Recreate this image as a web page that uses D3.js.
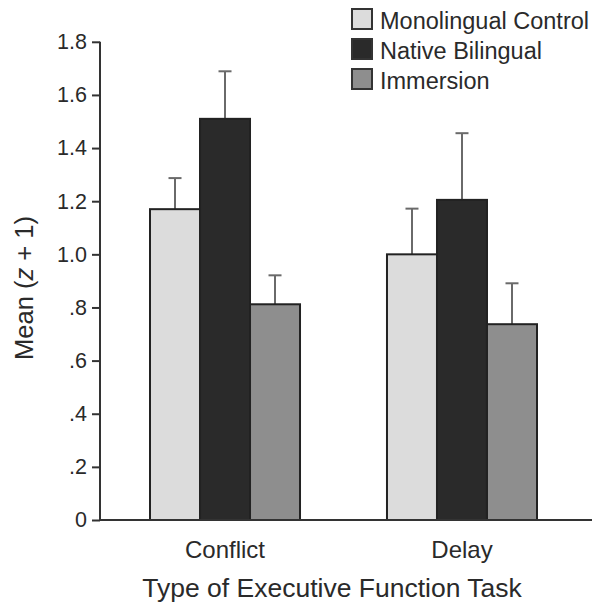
<!DOCTYPE html>
<html><head><meta charset="utf-8">
<script src="https://cdn.jsdelivr.net/npm/d3@7"></script>
<style>body{margin:0;background:#fff}svg{display:block}text{font-family:"Liberation Sans",Arial,sans-serif;fill:#2a2a2a}</style>
</head><body>
<script>
const categories = ["Conflict", "Delay"];
const groups = ["Monolingual Control", "Native Bilingual", "Immersion"];
const colors = ["#dcdcdc", "#2a2a2a", "#8e8e8e"];
const monolingual = [1.17, 1.00];
const nativeBilingual = [1.51, 1.205];
const immersion = [0.812, 0.737];
const errMonolingual = [0.117, 0.172];
const errNative = [0.179, 0.251];
const errImmersion = [0.109, 0.154];
const yTicks = [0, 0.2, 0.4, 0.6, 0.8, 1.0, 1.2, 1.4, 1.6, 1.8];
const yTickLabels = ["0", ".2", ".4", ".6", ".8", "1.0", "1.2", "1.4", "1.6", "1.8"];

const series = [monolingual, nativeBilingual, immersion];
const errs = [errMonolingual, errNative, errImmersion];

const W = 602, H = 608;
const svg = d3.select("body").append("svg").attr("width", W).attr("height", H);

const y = d3.scaleLinear().domain([0, 1.8]).range([520, 41.8]);
const x0 = d3.scaleBand().domain(categories).range([100, 587]).paddingInner(0.367).paddingOuter(0.211);
const x1 = d3.scaleBand().domain(groups).range([0, x0.bandwidth()]);

// bars
categories.forEach((c, ci) => {
  groups.forEach((g, gi) => {
    const v = series[gi][ci], e = errs[gi][ci];
    const bx = x0(c) + x1(g);
    const cx = bx + x1.bandwidth() / 2;
    svg.append("line").attr("x1", cx).attr("x2", cx).attr("y1", y(v)).attr("y2", y(v + e))
      .attr("stroke", "#6a6a6a").attr("stroke-width", 2);
    svg.append("line").attr("x1", cx - 6.5).attr("x2", cx + 6.5).attr("y1", y(v + e)).attr("y2", y(v + e))
      .attr("stroke", "#6a6a6a").attr("stroke-width", 2);
    svg.append("rect").attr("x", bx).attr("y", y(v)).attr("width", x1.bandwidth()).attr("height", y(0) - y(v))
      .attr("fill", colors[gi]).attr("stroke", "#222").attr("stroke-width", 2);
  });
});

// y axis
const yAxis = d3.axisLeft(y).tickValues(yTicks).tickFormat((d, i) => yTickLabels[i]).tickSize(8).tickPadding(5);
const ya = svg.append("g").attr("transform", "translate(100,0)").call(yAxis);
ya.select(".domain").attr("stroke", "#333").attr("stroke-width", 2).attr("d", "M0," + y(1.8) + "V" + y(0));
ya.selectAll(".tick line").attr("stroke", "#333").attr("stroke-width", 2);
ya.selectAll(".tick text").attr("font-size", 21.5).attr("fill", "#2a2a2a").attr("font-family", "Liberation Sans, Arial, sans-serif");

// x axis baseline
const xAxis = d3.axisBottom(x0).tickSize(0).tickPadding(21);
const xa = svg.append("g").attr("transform", "translate(0,520)").call(xAxis);
xa.select(".domain").attr("stroke", "#333").attr("stroke-width", 2).attr("d", "M100,0H592");
xa.selectAll(".tick text").attr("font-size", 24).attr("fill", "#2a2a2a").attr("font-family", "Liberation Sans, Arial, sans-serif");

// axis titles
svg.append("text").attr("x", 332).attr("y", 597).attr("text-anchor", "middle").attr("font-size", 26.5)
  .text("Type of Executive Function Task");
const yt = svg.append("text").attr("transform", "translate(33,288) rotate(-90)").attr("text-anchor", "middle").attr("font-size", 25.5);
yt.append("tspan").text("Mean (");
yt.append("tspan").attr("font-style", "italic").text("z");
yt.append("tspan").text(" + 1)");

// legend
groups.forEach((g, i) => {
  const ly = 9 + i * 30;
  svg.append("rect").attr("x", 352).attr("y", ly).attr("width", 20).attr("height", 20)
    .attr("fill", colors[i]).attr("stroke", "#333").attr("stroke-width", 2);
  svg.append("text").attr("x", 380).attr("y", ly + 20).attr("font-size", 23.5).text(g);
});
</script>
</body></html>
